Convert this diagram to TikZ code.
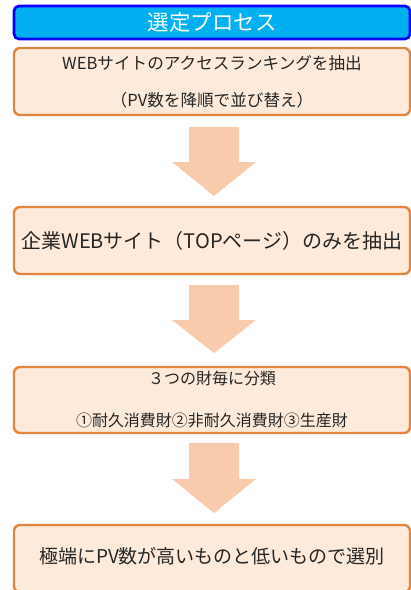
\documentclass[tikz,border=0pt]{standalone}
\usepackage{fontspec}
\setmainfont{Noto Sans CJK JP}
\definecolor{titlefill}{HTML}{00B0F0}
\definecolor{titledraw}{HTML}{0000FF}
\definecolor{boxfill}{HTML}{FDEADA}
\definecolor{boxdraw}{HTML}{E3843E}
\definecolor{arrowfill}{HTML}{F8CBAD}
\definecolor{txt}{HTML}{262626}
\begin{document}
\begin{tikzpicture}[x=1pt,y=-1pt,
  titlebox/.style={draw=titledraw,fill=titlefill,line width=2.6pt,rounded corners=5pt,
    minimum width=396pt,minimum height=33pt,inner sep=0pt,text=white,
    font=\fontsize{21.5}{24}\selectfont},
  procbox/.style={draw=boxdraw,fill=boxfill,line width=2.4pt,rounded corners=6pt,
    minimum width=396pt,minimum height=67pt,inner sep=0pt},
  boxtext/.style={text=txt,align=center,inner sep=0pt},
  blockarrow/.style={fill=arrowfill}]
\useasboundingbox (0,0) rectangle (411,590);
\node[titlebox] (title) at (212,22.5) {選定プロセス};
\node[procbox] (b1) at (212,81.5) {};
\node[procbox] (b2) at (212,240.5) {};
\node[procbox,minimum height=66pt] (b3) at (212,400) {};
\node[procbox] (b4) at (212,558.5) {};
\node[boxtext,font=\fontsize{16.6}{19}\selectfont] (t1a) at (212,63) {WEBサイトのアクセスランキングを抽出};
\node[boxtext,font=\fontsize{16.6}{19}\selectfont] (t1b) at (212,100) {（PV数を降順で並び替え）};
\node[boxtext,font=\fontsize{20}{23}\selectfont] (t2) at (212,240.5) {企業WEBサイト（TOPページ）のみを抽出};
\node[boxtext,font=\fontsize{16}{19}\selectfont] (t3a) at (212,378) {３つの財毎に分類};
\node[boxtext,font=\fontsize{16}{19}\selectfont] (t3b) at (212,420) {①耐久消費財②非耐久消費財③生産財};
\node[boxtext,font=\fontsize{19}{22}\selectfont] (t4) at (212,556) {極端にPV数が高いものと低いもので選別};
\foreach \top/\head/\tip in {127/162/196, 285/320/353, 443/479/513}{
  \fill[blockarrow] (189,\top) -- (239,\top) -- (239,\head) -- (256,\head) -- (214,\tip)
    -- (172,\head) -- (189,\head) -- cycle;
}
\end{tikzpicture}
\end{document}
